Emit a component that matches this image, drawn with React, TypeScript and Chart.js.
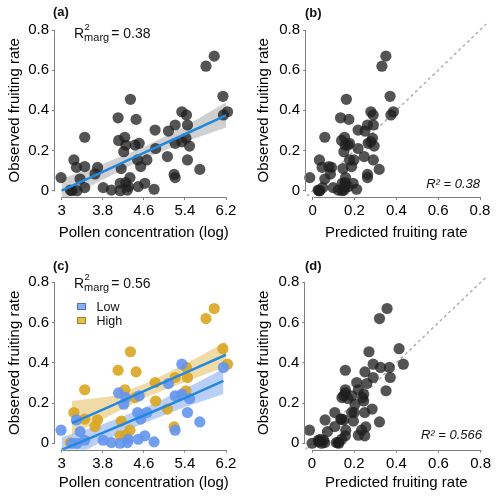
import React, { useEffect, useRef } from "react";
import { Chart, registerables } from "chart.js";
Chart.register(...registerables);

const FONT = '"Liberation Sans", Arial, Helvetica, sans-serif';
const AXIS = "#808080";
const LINE_BLUE = "#2388e0";
const DOT_GRAY = "rgba(30,30,30,0.76)";
const LOW_COL = "rgba(100,149,237,0.9)";
const HIGH_COL = "rgba(218,165,32,0.9)";
const GRAY_BAND = "rgba(150,150,150,0.45)";
const LOW_BAND = "rgba(100,149,237,0.45)";
const HIGH_BAND = "rgba(218,165,32,0.4)";

// ---- data ----
const pollen = [2.99, 3.17, 3.2, 3.24, 3.29, 3.3, 3.36, 3.45, 3.45, 3.45, 3.65, 3.7, 3.81, 3.97, 4.1, 4.11, 4.14, 4.14, 4.16, 4.21, 4.23, 4.25, 4.25, 4.28, 4.3, 4.33, 4.34, 4.43, 4.45, 4.48, 4.49, 4.51, 4.54, 4.62, 4.66, 4.8, 4.82, 4.83, 5.06, 5.08, 5.19, 5.21, 5.21, 5.21, 5.34, 5.34, 5.42, 5.43, 5.45, 5.45, 5.49, 5.69, 5.81, 5.97, 6.14, 6.15, 6.23];
const observed = [0.065, 0.003, 0.0, 0.153, 0.116, 0.0, 0.058, 0.266, 0.12, 0.015, 0.083, 0.116, 0.015, 0.003, 0.363, 0.25, 0.037, 0.0, 0.11, 0.194, 0.266, 0.227, 0.04, 0.003, 0.02, 0.065, 0.455, 0.227, 0.355, 0.153, 0.02, 0.236, 0.12, 0.037, 0.153, 0.007, 0.302, 0.21, 0.17, 0.297, 0.081, 0.065, 0.327, 0.236, 0.393, 0.244, 0.261, 0.377, 0.327, 0.153, 0.222, 0.106, 0.62, 0.67, 0.47, 0.377, 0.393];
const group = ["Low", "High", "Low", "High", "Low", "Low", "Low", "High", "High", "Low", "High", "High", "Low", "Low", "High", "Low", "High", "Low", "High", "Low", "High", "Low", "High", "Low", "Low", "High", "High", "High", "High", "Low", "Low", "Low", "Low", "Low", "Low", "Low", "High", "High", "High", "Low", "High", "Low", "High", "Low", "Low", "Low", "High", "High", "High", "Low", "Low", "Low", "High", "High", "High", "Low", "High"];
const predictedB = [-0.014, 0.026, 0.034, 0.032, 0.045, 0.03, 0.058, 0.058, 0.077, 0.048, 0.085, 0.09, 0.098, 0.122, 0.133, 0.138, 0.141, 0.141, 0.145, 0.149, 0.152, 0.155, 0.155, 0.15, 0.153, 0.157, 0.161, 0.17, 0.173, 0.176, 0.17, 0.176, 0.186, 0.193, 0.197, 0.21, 0.217, 0.217, 0.246, 0.25, 0.262, 0.262, 0.262, 0.265, 0.278, 0.278, 0.286, 0.289, 0.29, 0.29, 0.294, 0.318, 0.331, 0.35, 0.37, 0.374, 0.386];
const predictedD = [-0.012, 0.124, 0.0, 0.108, 0.062, 0.045, 0.073, 0.158, 0.136, 0.03, 0.108, 0.15, 0.055, 0.06, 0.158, 0.158, 0.158, 0.127, 0.196, 0.204, 0.22, 0.142, 0.22, 0.115, 0.04, 0.235, 0.27, 0.24, 0.251, 0.188, 0.14, 0.189, 0.14, 0.25, 0.25, 0.03, 0.212, 0.245, 0.285, 0.26, 0.255, 0.16, 0.29, 0.15, 0.29, 0.245, 0.351, 0.325, 0.371, 0.2, 0.17, 0.32, 0.32, 0.356, 0.413, 0.367, 0.433];

// model fits
const fitAX = [3.0, 3.8, 4.6, 5.4, 6.2];
const fitA = [0.0, 0.094, 0.188, 0.281, 0.375];
const fitALo = [-0.05, 0.055, 0.158, 0.243, 0.315];
const fitAHi = [0.058, 0.133, 0.218, 0.32, 0.44];

const highX = [3.2, 4.0, 4.7, 5.45, 6.2];
const highFit = [0.1, 0.19, 0.27, 0.355, 0.44];
const highLo = [0.04, 0.145, 0.235, 0.31, 0.38];
const highHi = [0.21, 0.235, 0.305, 0.4, 0.505];

const lowX = [3.0, 3.8, 4.6, 5.4, 6.15];
const lowFit = [-0.033, 0.052, 0.138, 0.224, 0.31];
const lowLo = [-0.1, 0.01, 0.1, 0.18, 0.245];
const lowHi = [0.03, 0.095, 0.175, 0.27, 0.37];

const oneToOneX = [-1, 1];

const groups = ["Low", "High"];
const yTicks = [0, 0.2, 0.4, 0.6, 0.8];
const pollenTicks = [3, 3.8, 4.6, 5.4, 6.2];
const predTicks = [0, 0.2, 0.4, 0.6, 0.8];

const r2MargA = "0.38";
const r2MargC = "0.56";
const r2B = "0.38";
const r2D = "0.566";

// ---- helpers ----
const pts = (xs: number[], ys: number[]) => xs.map((x, i) => ({ x, y: ys[i] }));
const fmt = (v: number) => String(Math.round(v * 10) / 10);
const expand = (t: number[]) => {
  const a = t[0], b = t[t.length - 1];
  const d = (b - a) * 0.04;
  return [a - d, b + d];
};

const bandLower = (xs: number[], ys: number[]) => ({
  data: pts(xs, ys), borderWidth: 0, pointRadius: 0, fill: false, order: 3, tension: 0,
});
const bandUpper = (xs: number[], ys: number[], color: string) => ({
  data: pts(xs, ys), borderWidth: 0, pointRadius: 0, fill: "-1", backgroundColor: color, order: 3, tension: 0,
});
const fitLine = (xs: number[], ys: number[]) => ({
  data: pts(xs, ys), borderColor: LINE_BLUE, borderWidth: 2.5, pointRadius: 0, fill: false, order: 0, tension: 0,
});
const dots = (data: { x: number; y: number }[], color: string) => ({
  data, showLine: false, pointRadius: 5.6, pointHoverRadius: 5.6, pointBorderWidth: 0,
  pointBackgroundColor: color, backgroundColor: color, borderColor: color, order: 1, clip: false,
});
const oneToOne = () => ({
  data: pts(oneToOneX, oneToOneX), borderColor: "#b0b0b0", borderWidth: 1.5, borderDash: [3, 3],
  pointRadius: 0, fill: false, order: 2,
});

function drawRmarg(ctx: CanvasRenderingContext2D, x: number, base: number, value: string) {
  ctx.fillStyle = "#111";
  ctx.textAlign = "left";
  ctx.textBaseline = "alphabetic";
  ctx.font = `14px ${FONT}`;
  ctx.fillText("R", x, base);
  const wR = ctx.measureText("R").width;
  ctx.font = `9.5px ${FONT}`;
  ctx.fillText("2", x + wR + 0.5, base - 8);
  ctx.font = `11px ${FONT}`;
  ctx.fillText("marg", x + wR, base + 3);
  const wm = ctx.measureText("marg").width;
  ctx.font = `14px ${FONT}`;
  ctx.fillText("= " + value, x + wR + wm + 2, base);
}

function drawR2(ctx: CanvasRenderingContext2D, right: number, base: number, value: string) {
  ctx.fillStyle = "#111";
  ctx.textAlign = "right";
  ctx.textBaseline = "alphabetic";
  ctx.font = `italic 13px ${FONT}`;
  ctx.fillText("R² = " + value, right, base);
}

function drawLegend(ctx: CanvasRenderingContext2D) {
  const fills = ["rgba(100,149,237,0.75)", "rgba(218,165,32,0.75)"];
  const strokes = ["rgba(70,105,180,0.9)", "rgba(160,120,20,0.9)"];
  const ys = [53, 67];
  groups.forEach((g, i) => {
    ctx.fillStyle = fills[i];
    ctx.fillRect(77, ys[i], 9, 7);
    ctx.strokeStyle = strokes[i];
    ctx.lineWidth = 1;
    ctx.strokeRect(77.5, ys[i] + 0.5, 8, 6);
    ctx.fillStyle = "#111";
    ctx.font = `12.5px ${FONT}`;
    ctx.textAlign = "left";
    ctx.textBaseline = "alphabetic";
    ctx.fillText(g, 96.5, ys[i] + 8);
  });
}

type Spec = {
  key: string; left: number; top: number; W: number;
  L: number; R: number; T: number; B: number;
  xTicks: number[]; xTitle: string; datasets: any[];
  label: string; labelX: number; labelY: number;
  annotate: (ctx: CanvasRenderingContext2D) => void;
};

const H = 250;

function makeConfig(p: Spec): any {
  const [xMin, xMax] = expand(p.xTicks);
  const [yMin, yMax] = expand(yTicks);
  const tickFont = { family: FONT, size: 15 };
  const axisPlugin = {
    id: "axisLines" + p.key,
    afterDraw(chart: any) {
      const { ctx, chartArea } = chart;
      const xs = chart.scales.x, ys = chart.scales.y;
      ctx.save();
      ctx.strokeStyle = AXIS;
      ctx.lineWidth = 1;
      const ax = Math.round(chartArea.left) - 0.5;
      const y0 = ys.getPixelForValue(yTicks[0]);
      const y1 = ys.getPixelForValue(yTicks[yTicks.length - 1]);
      ctx.beginPath();
      ctx.moveTo(ax, Math.round(y0) + 0.5);
      ctx.lineTo(ax, Math.round(y1) + 0.5);
      ctx.stroke();
      const ay = Math.round(chartArea.bottom) + 0.5;
      const x0 = xs.getPixelForValue(p.xTicks[0]);
      const x1 = xs.getPixelForValue(p.xTicks[p.xTicks.length - 1]);
      ctx.beginPath();
      ctx.moveTo(Math.round(x0) + 0.5, ay);
      ctx.lineTo(Math.round(x1) + 0.5, ay);
      ctx.stroke();
      // panel label
      ctx.fillStyle = "#111";
      ctx.font = `bold 13px ${FONT}`;
      ctx.textAlign = "left";
      ctx.textBaseline = "alphabetic";
      ctx.fillText(p.label, p.labelX, p.labelY);
      p.annotate(ctx);
      ctx.restore();
    },
  };
  const grid = { display: true, drawOnChartArea: false, drawTicks: true, tickLength: 3, color: AXIS, lineWidth: 1 };
  return {
    type: "line",
    data: { datasets: p.datasets },
    options: {
      responsive: false,
      animation: false,
      devicePixelRatio: 1,
      events: [],
      layout: { padding: { left: 0, top: p.T, right: p.W - p.R, bottom: 0 } },
      plugins: { legend: { display: false }, tooltip: { enabled: false }, title: { display: false } },
      scales: {
        x: {
          type: "linear", min: xMin, max: xMax,
          afterBuildTicks: (s: any) => { s.ticks = p.xTicks.map((v) => ({ value: v })); },
          afterFit: (s: any) => { s.height = H - p.B; },
          grid, border: { display: false },
          ticks: { font: tickFont, color: "#000", padding: 2, maxRotation: 0, autoSkip: false, callback: (v: any) => fmt(Number(v)) },
          title: { display: true, text: p.xTitle, font: tickFont, color: "#000", padding: { top: 0, bottom: 8.6 } },
        },
        y: {
          type: "linear", min: yMin, max: yMax,
          afterBuildTicks: (s: any) => { s.ticks = yTicks.map((v) => ({ value: v })); },
          afterFit: (s: any) => { s.width = p.L; },
          grid, border: { display: false },
          ticks: { font: tickFont, color: "#000", padding: 3, autoSkip: false, callback: (v: any) => fmt(Number(v)) },
          title: { display: true, text: "Observed fruiting rate", font: tickFont, color: "#000", padding: { top: 5.6, bottom: 0 } },
        },
      },
    },
    plugins: [axisPlugin],
  };
}

const allObs = pts(pollen, observed);
const lowObs = allObs.filter((_, i) => group[i] === groups[0]);
const highObs = allObs.filter((_, i) => group[i] === groups[1]);

const specs: Spec[] = [
  {
    key: "a", left: 0, top: 0, W: 249, L: 55, R: 232.6, T: 23.6, B: 197.1,
    xTicks: pollenTicks, xTitle: "Pollen concentration (log)",
    datasets: [
      bandLower(fitAX, fitALo), bandUpper(fitAX, fitAHi, GRAY_BAND),
      dots(allObs, DOT_GRAY), fitLine(fitAX, fitA),
    ],
    label: "(a)", labelX: 53, labelY: 16,
    annotate: (ctx) => drawRmarg(ctx, 74, 37.5, r2MargA),
  },
  {
    key: "b", left: 249, top: 0, W: 248, L: 57, R: 237.7, T: 23.6, B: 197.1,
    xTicks: predTicks, xTitle: "Predicted fruiting rate",
    datasets: [oneToOne(), dots(pts(predictedB, observed), DOT_GRAY)],
    label: "(b)", labelX: 56, labelY: 17,
    annotate: (ctx) => drawR2(ctx, 231, 187.5, r2B),
  },
  {
    key: "c", left: 0, top: 250, W: 249, L: 55, R: 232.6, T: 25.9, B: 199.7,
    xTicks: pollenTicks, xTitle: "Pollen concentration (log)",
    datasets: [
      bandLower(lowX, lowLo), bandUpper(lowX, lowHi, LOW_BAND),
      bandLower(highX, highLo), bandUpper(highX, highHi, HIGH_BAND),
      dots(lowObs, LOW_COL), dots(highObs, HIGH_COL),
      fitLine(lowX, lowFit), fitLine(highX, highFit),
    ],
    label: "(c)", labelX: 53, labelY: 19.5,
    annotate: (ctx) => { drawRmarg(ctx, 74, 37.5, r2MargC); drawLegend(ctx); },
  },
  {
    key: "d", left: 249, top: 250, W: 248, L: 56.3, R: 238.4, T: 25.9, B: 199.7,
    xTicks: predTicks, xTitle: "Predicted fruiting rate",
    datasets: [oneToOne(), dots(pts(predictedD, observed), DOT_GRAY)],
    label: "(d)", labelX: 56, labelY: 20,
    annotate: (ctx) => drawR2(ctx, 233, 189, r2D),
  },
];

function Panel({ spec }: { spec: Spec }) {
  const ref = useRef<HTMLCanvasElement | null>(null);
  useEffect(() => {
    if (!ref.current) return;
    const chart = new Chart(ref.current, makeConfig(spec));
    return () => chart.destroy();
  }, [spec]);
  return (
    <canvas
      ref={ref}
      width={spec.W}
      height={H}
      style={{ position: "absolute", left: spec.left, top: spec.top, width: spec.W, height: H, display: "block" }}
    />
  );
}

export default function App() {
  return (
    <div style={{ position: "absolute", left: 0, top: 0, width: 497, height: 500, background: "#fff", overflow: "hidden" }}>
      {specs.map((s) => (
        <Panel key={s.key} spec={s} />
      ))}
    </div>
  );
}
